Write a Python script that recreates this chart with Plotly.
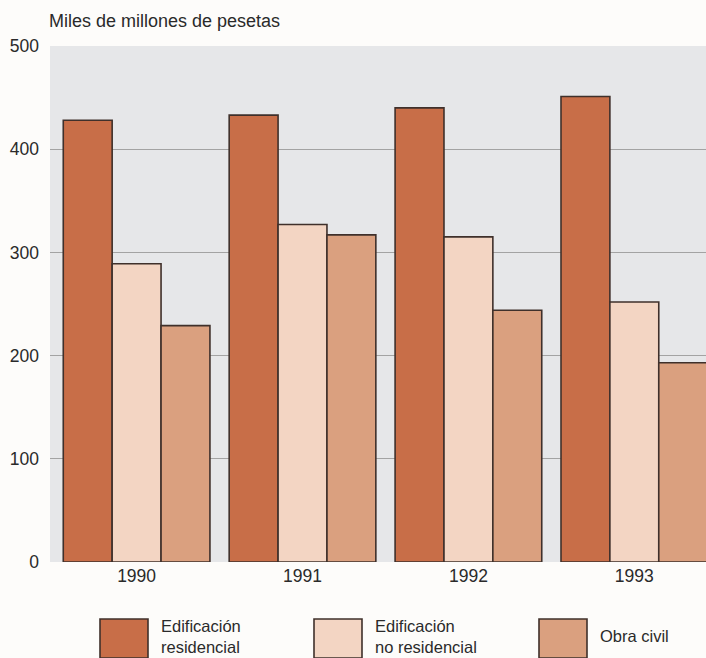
import plotly.graph_objects as go

# Inversión en construcción por tipo de obra
years = ["1990", "1991", "1992", "1993"]
residencial = [428, 433, 440, 451]
no_residencial = [289, 327, 315, 252]
obra_civil = [229, 317, 244, 193]

series_labels = ["Edificación<br>residencial", "Edificación<br>no residencial", "Obra civil"]
series_values = [residencial, no_residencial, obra_civil]
series_colors = ["#c86e48", "#f3d5c3", "#daa07f"]
y_ticks = [0, 100, 200, 300, 400, 500]

outline = "#3f302b"
text_color = "#2a2a2a"
font_family = "Liberation Sans, Arial, sans-serif"

fig = go.Figure()
x_pos = list(range(len(years)))
for label, vals, col in zip(series_labels, series_values, series_colors):
    fig.add_trace(go.Bar(
        x=x_pos, y=vals, name=label.replace("<br>", " "),
        marker=dict(color=col, line=dict(color=outline, width=1.6)),
        showlegend=False,
    ))

ML, MR, MT, MB = 50, 0, 46, 96
W, H = 706, 658
fig.update_layout(
    width=W, height=H,
    margin=dict(l=ML, r=MR, t=MT, b=MB),
    paper_bgcolor="#fdfcfa",
    plot_bgcolor="#e6e7e9",
    barmode="group", bargap=0.116, bargroupgap=0,
    font=dict(family=font_family, size=17.5, color=text_color),
    xaxis=dict(
        range=[-0.522, 3.432], tickvals=x_pos, ticktext=years,
        showgrid=False, zeroline=False, showline=False,
        ticks="", ticklabelstandoff=1, fixedrange=True,
    ),
    yaxis=dict(
        range=[0, 500], tickvals=y_ticks,
        showgrid=True, gridcolor="#a3a3a3", gridwidth=1,
        zeroline=False, showline=False, ticks="",
        ticklabelstandoff=10, fixedrange=True,
    ),
)

plot_w = W - ML - MR
plot_h = H - MT - MB


def px_x(x):
    return (x - ML) / plot_w


def px_y(y):
    return (H - MB - y) / plot_h


# Unidad del eje vertical
fig.add_annotation(
    text="Miles de millones de pesetas", xref="paper", yref="paper",
    x=px_x(47), y=px_y(21), xanchor="left", yanchor="middle",
    showarrow=False, font=dict(size=18, color=text_color),
)

# Leyenda dibujada bajo el gráfico
box_lefts = [100, 314, 539]
for label, col, left in zip(series_labels, series_colors, box_lefts):
    fig.add_shape(type="rect", xref="paper", yref="paper",
                  x0=px_x(left), x1=px_x(left + 48),
                  y0=px_y(658), y1=px_y(619),
                  fillcolor=col, line=dict(color=outline, width=1.6))
    fig.add_annotation(
        text=label, xref="paper", yref="paper",
        x=px_x(left + 59), y=px_y(636),
        xanchor="left", yanchor="middle", align="left",
        showarrow=False, font=dict(size=16.5, color=text_color),
    )

fig.write_html("out.html")
